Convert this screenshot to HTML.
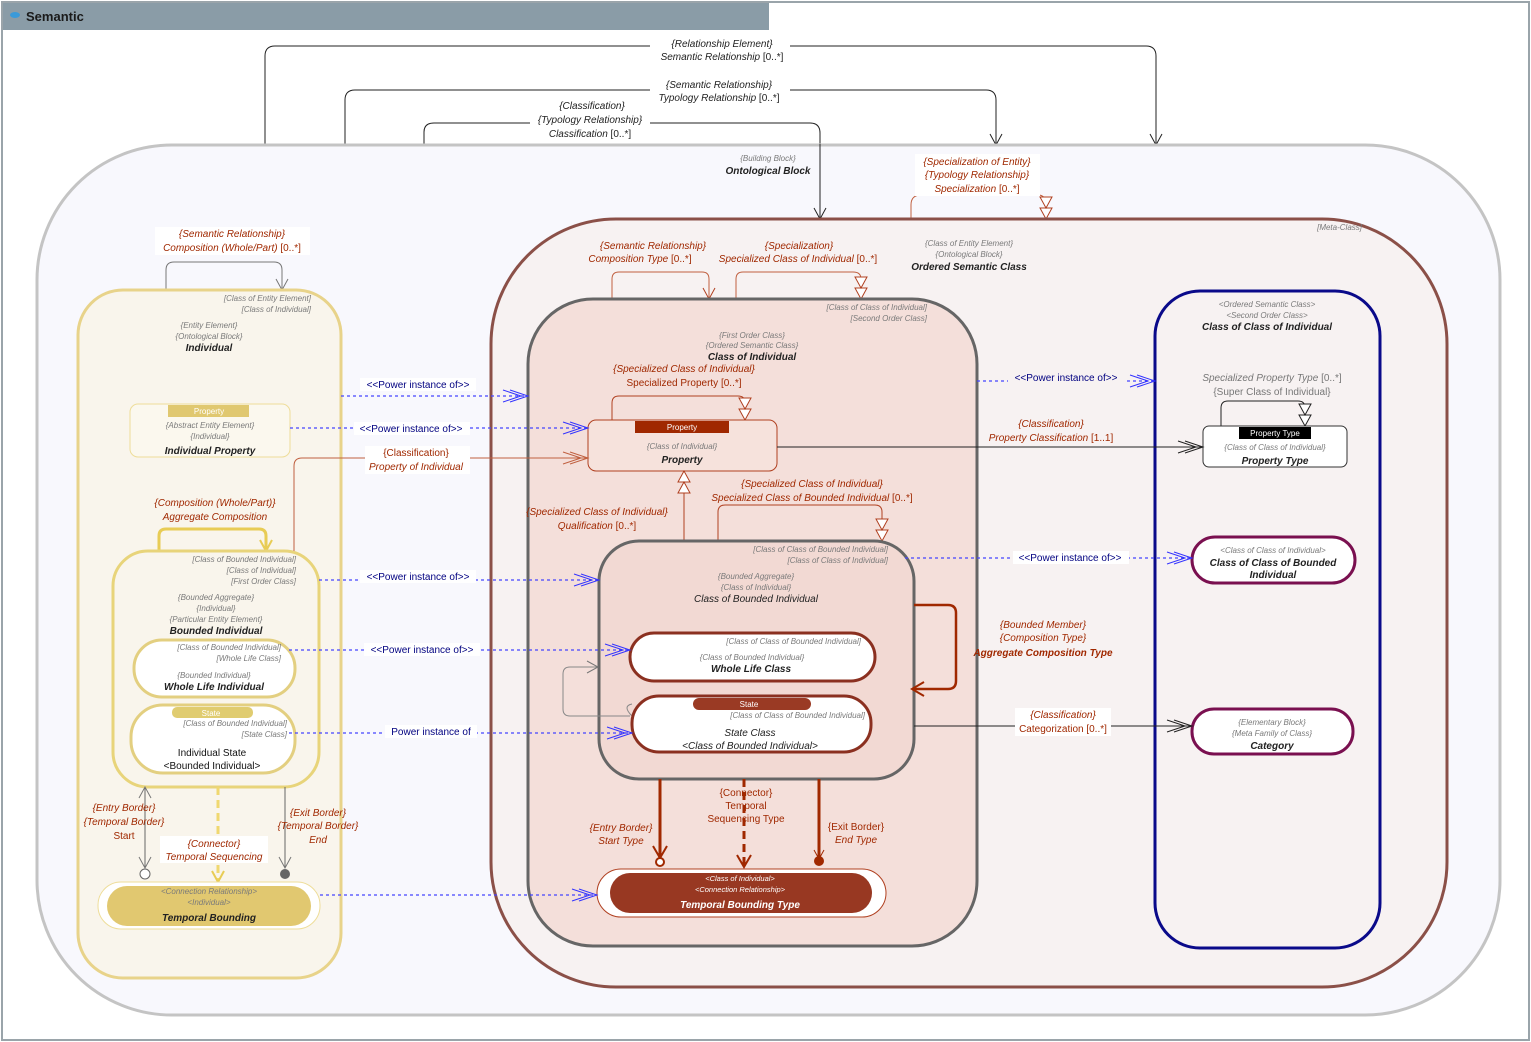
<!DOCTYPE html>
<html><head><meta charset="utf-8"><style>
html,body{margin:0;padding:0;background:#fff;}
svg{display:block;font-family:"Liberation Sans",sans-serif;}
marker{overflow:visible;}
.g{font-size:8px;fill:#7a7a7a;font-style:italic;}
.t{font-size:10px;fill:#222;font-style:italic;font-weight:bold;}
.r{font-size:10px;fill:#a02800;font-style:italic;}
.rn{font-size:10px;fill:#a02800;}
.k{font-size:10px;fill:#222;font-style:italic;}
.b{font-size:10px;fill:#000080;}
</style></head><body>
<svg width="1531" height="1042" viewBox="0 0 1531 1042" xmlns="http://www.w3.org/2000/svg">
<defs>
<marker id="ob" overflow="visible" markerWidth="20" markerHeight="12" refX="18" refY="6" orient="auto" markerUnits="userSpaceOnUse"><path d="M0,0 L18,6 L0,12 M-7,0 L11,6 L-7,12" fill="none" stroke="#3333ff" stroke-width="1"/></marker>
<marker id="okk" overflow="visible" markerWidth="20" markerHeight="12" refX="18" refY="6" orient="auto" markerUnits="userSpaceOnUse"><path d="M0,0 L18,6 L0,12 M-7,0 L11,6 L-7,12" fill="none" stroke="#222" stroke-width="1"/></marker>
<marker id="orr" overflow="visible" markerWidth="20" markerHeight="12" refX="18" refY="6" orient="auto" markerUnits="userSpaceOnUse"><path d="M0,0 L18,6 L0,12 M-7,0 L11,6 L-7,12" fill="none" stroke="#c06040" stroke-width="1"/></marker>
<marker id="ok" overflow="visible" markerWidth="12" markerHeight="12" refX="11" refY="6" orient="auto" markerUnits="userSpaceOnUse"><path d="M0,0 L11,6 L0,12" fill="none" stroke="#222" stroke-width="1"/></marker>
<marker id="og" overflow="visible" markerWidth="12" markerHeight="12" refX="11" refY="6" orient="auto" markerUnits="userSpaceOnUse"><path d="M0,0 L11,6 L0,12" fill="none" stroke="#777" stroke-width="1"/></marker>
<marker id="or" overflow="visible" markerWidth="12" markerHeight="12" refX="11" refY="6" orient="auto" markerUnits="userSpaceOnUse"><path d="M0,0 L11,6 L0,12" fill="none" stroke="#b04020" stroke-width="1"/></marker>
<marker id="oy" overflow="visible" markerWidth="12" markerHeight="12" refX="11" refY="6" orient="auto" markerUnits="userSpaceOnUse"><path d="M0,0 L11,6 L0,12" fill="none" stroke="#e8cc55" stroke-width="2"/></marker>
<marker id="orb" overflow="visible" markerWidth="14" markerHeight="14" refX="12" refY="7" orient="auto" markerUnits="userSpaceOnUse"><path d="M0,0 L12,7 L0,14" fill="none" stroke="#a02800" stroke-width="2"/></marker>
<marker id="tr" overflow="visible" markerWidth="12" markerHeight="22" refX="11" refY="11" orient="auto" markerUnits="userSpaceOnUse"><path d="M11,11 L0,5 L0,17 Z M0,11 L-11,5 L-11,17 Z" fill="#fff" stroke="#b04020" stroke-width="1"/></marker>
<marker id="tk" overflow="visible" markerWidth="12" markerHeight="22" refX="11" refY="11" orient="auto" markerUnits="userSpaceOnUse"><path d="M11,11 L0,5 L0,17 Z M0,11 L-11,5 L-11,17 Z" fill="#fff" stroke="#222" stroke-width="1"/></marker>
</defs>

<rect x="0" y="0" width="1531" height="1042" fill="#fff"/>
<rect x="2" y="2" width="1527" height="1038" fill="none" stroke="#9aa4aa" stroke-width="2"/>
<rect x="3" y="3" width="766" height="27" fill="#8a9ca7"/>
<ellipse cx="15" cy="15" rx="5" ry="3" fill="#3a9ad9"/>
<text x="26" y="21" font-size="13" font-weight="bold" fill="#1a1a1a">Semantic</text>

<!-- top connectors -->
<path d="M265,145 V56 Q265,46 275,46 H1146 Q1156,46 1156,56 V145" fill="none" stroke="#222" marker-end="url(#ok)"/>
<path d="M345,145 V100 Q345,90 355,90 H986 Q996,90 996,100 V145" fill="none" stroke="#222" marker-end="url(#ok)"/>
<path d="M424,145 V132 Q424,123 434,123 H810 Q820,123 820,133 V145" fill="none" stroke="#222"/>
<rect x="650" y="37" width="140" height="28" fill="#fff"/>
<text x="722" y="47" class="k" text-anchor="middle" font-size="10">{Relationship Element}</text>
<text x="722" y="60" class="k" text-anchor="middle">Semantic Relationship<tspan font-style="normal"> [0..*]</tspan></text>
<rect x="650" y="78" width="140" height="28" fill="#fff"/>
<text x="719" y="88" class="k" text-anchor="middle">{Semantic Relationship}</text>
<text x="719" y="101" class="k" text-anchor="middle">Typology Relationship<tspan font-style="normal"> [0..*]</tspan></text>
<rect x="530" y="100" width="120" height="40" fill="#fff"/>
<text x="592" y="109" class="k" text-anchor="middle">{Classification}</text>
<text x="590" y="123" class="k" text-anchor="middle">{Typology Relationship}</text>
<text x="590" y="137" class="k" text-anchor="middle">Classification<tspan font-style="normal"> [0..*]</tspan></text>

<!-- Ontological block -->
<rect x="37" y="145" width="1463" height="870" rx="135" fill="#f8f8fd" stroke="#c4c4c4" stroke-width="3"/>
<path d="M820,144 V219" fill="none" stroke="#222" marker-end="url(#ok)"/>
<text x="768" y="161" class="g" text-anchor="middle">{Building Block}</text>
<text x="768" y="174" class="t" text-anchor="middle">Ontological Block</text>

<!-- Ordered Semantic Class -->
<path d="M911,219 V205 Q911,195 921,195" fill="none" stroke="#c06040"/>
<path d="M1038,195 Q1046,195 1046,205 V219" fill="none" stroke="#c06040" marker-end="url(#tr)"/>
<rect x="915" y="154" width="125" height="42" fill="#fff"/>
<text x="977" y="165" class="r" text-anchor="middle">{Specialization of Entity}</text>
<text x="977" y="178" class="r" text-anchor="middle">{Typology Relationship}</text>
<text x="977" y="192" class="r" text-anchor="middle">Specialization<tspan font-style="normal"> [0..*]</tspan></text>
<rect x="491" y="219" width="956" height="768" rx="125" fill="#f7f2f2" stroke="#8b5048" stroke-width="3"/>
<text x="1362" y="230" class="g" text-anchor="end">[Meta-Class]</text>
<text x="969" y="246" class="g" text-anchor="middle">{Class of Entity Element}</text>
<text x="969" y="257" class="g" text-anchor="middle">{Ontological Block}</text>
<text x="969" y="270" class="t" text-anchor="middle">Ordered Semantic Class</text>

<!-- Individual (yellow) -->
<path d="M166,290 V270 Q166,262 174,262 H274 Q282,262 282,270 V290" fill="none" stroke="#777" marker-end="url(#og)"/>
<rect x="155" y="227" width="155" height="28" fill="#fff"/>
<text x="232" y="237" class="r" text-anchor="middle">{Semantic Relationship}</text>
<text x="232" y="251" class="r" text-anchor="middle">Composition (Whole/Part)<tspan font-style="normal"> [0..*]</tspan></text>
<rect x="78" y="290" width="263" height="688" rx="45" fill="#f9f5ec" stroke="#e8d38a" stroke-width="3"/>
<text x="311" y="301" class="g" text-anchor="end">[Class of Entity Element]</text>
<text x="311" y="312" class="g" text-anchor="end">[Class of Individual]</text>
<text x="209" y="328" class="g" text-anchor="middle">{Entity Element}</text>
<text x="209" y="339" class="g" text-anchor="middle">{Ontological Block}</text>
<text x="209" y="351" class="t" text-anchor="middle">Individual</text>

<rect x="130" y="404" width="160" height="53" rx="8" fill="#fbf8ee" stroke="#eedd99"/>
<rect x="168" y="405" width="81" height="12" fill="#e0c870"/>
<text x="209" y="414" font-size="8" fill="#fff" text-anchor="middle">Property</text>
<text x="210" y="428" class="g" text-anchor="middle">{Abstract Entity Element}</text>
<text x="210" y="439" class="g" text-anchor="middle">{Individual}</text>
<text x="210" y="454" class="t" text-anchor="middle">Individual Property</text>

<path d="M159,551 V536 Q159,529 166,529 H259 Q266,529 266,536 V551" fill="none" stroke="#e8cc55" stroke-width="3" marker-end="url(#oy)"/>
<text x="215" y="506" class="r" text-anchor="middle">{Composition (Whole/Part)}</text>
<text x="215" y="520" class="r" text-anchor="middle">Aggregate Composition</text>

<rect x="113" y="551" width="206" height="236" rx="35" fill="#f9f5ec" stroke="#e8d47a" stroke-width="3"/>
<text x="296" y="562" class="g" text-anchor="end">[Class of Bounded Individual]</text>
<text x="296" y="573" class="g" text-anchor="end">[Class of Individual]</text>
<text x="296" y="584" class="g" text-anchor="end">[First Order Class]</text>
<text x="216" y="600" class="g" text-anchor="middle">{Bounded Aggregate}</text>
<text x="216" y="611" class="g" text-anchor="middle">{Individual}</text>
<text x="216" y="622" class="g" text-anchor="middle">{Particular Entity Element}</text>
<text x="216" y="634" class="t" text-anchor="middle">Bounded Individual</text>

<rect x="134" y="640" width="161" height="57" rx="28" fill="#fff" stroke="#e3cf80" stroke-width="3"/>
<text x="281" y="650" class="g" text-anchor="end">[Class of Bounded Individual]</text>
<text x="281" y="661" class="g" text-anchor="end">[Whole Life Class]</text>
<text x="214" y="678" class="g" text-anchor="middle">{Bounded Individual}</text>
<text x="214" y="690" class="t" text-anchor="middle">Whole Life Individual</text>

<rect x="131" y="705" width="164" height="68" rx="32" fill="#fff" stroke="#e3cf80" stroke-width="3"/>
<rect x="172" y="707" width="81" height="11" rx="5" fill="#e0cc70"/>
<text x="211" y="716" font-size="8" fill="#fff" text-anchor="middle">State</text>
<text x="287" y="726" class="g" text-anchor="end">[Class of Bounded Individual]</text>
<text x="287" y="737" class="g" text-anchor="end">[State Class]</text>
<text x="212" y="756" font-size="10" fill="#111" text-anchor="middle">Individual State</text>
<text x="212" y="769" font-size="10" fill="#111" text-anchor="middle">&lt;Bounded Individual&gt;</text>

<path d="M145,868 V787" fill="none" stroke="#666" marker-end="url(#og)"/>
<path d="M145,788 L145,868" fill="none" stroke="#666" marker-end="url(#og)"/>
<circle cx="145" cy="874" r="5" fill="#fff" stroke="#666"/>
<path d="M285,787 V868" fill="none" stroke="#666" marker-end="url(#og)"/>
<circle cx="285" cy="874" r="5" fill="#666"/>
<path d="M218,787 V882" fill="none" stroke="#f0d870" stroke-width="3" stroke-dasharray="8,5" marker-end="url(#oy)"/>
<text x="124" y="811" class="r" text-anchor="middle">{Entry Border}</text>
<text x="124" y="825" class="r" text-anchor="middle">{Temporal Border}</text>
<text x="124" y="839" class="rn" text-anchor="middle">Start</text>
<text x="318" y="816" class="r" text-anchor="middle">{Exit Border}</text>
<text x="318" y="829" class="r" text-anchor="middle">{Temporal Border}</text>
<text x="318" y="843" class="r" text-anchor="middle">End</text>
<rect x="160" y="836" width="108" height="27" fill="#fff"/>
<text x="214" y="847" class="r" text-anchor="middle">{Connector}</text>
<text x="214" y="860" class="r" text-anchor="middle">Temporal Sequencing</text>

<rect x="98" y="882" width="222" height="47" rx="23" fill="#fff" stroke="#eedd99"/>
<rect x="107" y="886" width="204" height="40" rx="20" fill="#e1c870"/>
<text x="209" y="894" class="g" text-anchor="middle" fill="#555">&lt;Connection Relationship&gt;</text>
<text x="209" y="905" class="g" text-anchor="middle" fill="#555">&lt;Individual&gt;</text>
<text x="209" y="921" class="t" text-anchor="middle">Temporal Bounding</text>

<!-- Class of Individual -->
<path d="M612,299 V279 Q612,272 619,272 H702 Q709,272 709,279 V299" fill="none" stroke="#c06040" marker-end="url(#or)"/>
<path d="M736,299 V279 Q736,272 743,272 H853 Q861,272 861,279 V299" fill="none" stroke="#c06040" marker-end="url(#tr)"/>
<text x="653" y="249" class="r" text-anchor="middle">{Semantic Relationship}</text>
<text x="640" y="262" class="r" text-anchor="middle">Composition Type<tspan font-style="normal"> [0..*]</tspan></text>
<text x="799" y="249" class="r" text-anchor="middle">{Specialization}</text>
<text x="798" y="262" class="r" text-anchor="middle">Specialized Class of Individual<tspan font-style="normal"> [0..*]</tspan></text>

<rect x="528" y="299" width="449" height="647" rx="65" fill="#f4dfda" stroke="#666" stroke-width="3"/>
<text x="927" y="310" class="g" text-anchor="end">[Class of Class of Individual]</text>
<text x="927" y="321" class="g" text-anchor="end">[Second Order Class]</text>
<text x="752" y="338" class="g" text-anchor="middle">{First Order Class}</text>
<text x="752" y="348" class="g" text-anchor="middle">{Ordered Semantic Class}</text>
<text x="752" y="360" class="t" text-anchor="middle">Class of Individual</text>
<text x="684" y="372" class="r" text-anchor="middle">{Specialized Class of Individual}</text>
<text x="684" y="386" class="rn" text-anchor="middle">Specialized Property [0..*]</text>

<path d="M612,420 V403 Q612,396 619,396 H738 Q745,396 745,403 V420" fill="none" stroke="#b04020" marker-end="url(#tr)"/>
<rect x="588" y="420" width="189" height="51" rx="8" fill="#f6e2dc" stroke="#b04020"/>
<rect x="635" y="421" width="94" height="12" fill="#a02800"/>
<text x="682" y="430" font-size="8" fill="#fff" text-anchor="middle">Property</text>
<text x="682" y="449" class="g" text-anchor="middle">{Class of Individual}</text>
<text x="682" y="463" class="t" text-anchor="middle">Property</text>

<path d="M684,541 V471" fill="none" stroke="#b04020" marker-end="url(#tr)"/>
<text x="597" y="515" class="r" text-anchor="middle">{Specialized Class of Individual}</text>
<text x="597" y="529" class="r" text-anchor="middle">Qualification<tspan font-style="normal"> [0..*]</tspan></text>
<path d="M718,541 V512 Q718,505 725,505 H875 Q882,505 882,512 V541" fill="none" stroke="#b04020" marker-end="url(#tr)"/>
<text x="812" y="487" class="r" text-anchor="middle">{Specialized Class of Individual}</text>
<text x="812" y="501" class="r" text-anchor="middle">Specialized Class of Bounded Individual<tspan font-style="normal"> [0..*]</tspan></text>

<rect x="599" y="541" width="315" height="238" rx="40" fill="#f2d9d3" stroke="#666" stroke-width="3"/>
<text x="888" y="552" class="g" text-anchor="end">[Class of Class of Bounded Individual]</text>
<text x="888" y="563" class="g" text-anchor="end">[Class of Class of Individual]</text>
<text x="756" y="579" class="g" text-anchor="middle">{Bounded Aggregate}</text>
<text x="756" y="590" class="g" text-anchor="middle">{Class of Individual}</text>
<text x="756" y="602" class="k" text-anchor="middle" font-size="10">Class of Bounded Individual</text>

<path d="M630,716 H570 Q563,716 563,709 V674 Q563,667 570,667 H598" fill="none" stroke="#888" marker-end="url(#og)"/>
<path d="M632,716 Q622,706 632,704" fill="none" stroke="#888"/>
<rect x="630" y="633" width="245" height="48" rx="24" fill="#fff" stroke="#8b3020" stroke-width="3"/>
<text x="861" y="644" class="g" text-anchor="end">[Class of Class of Bounded Individual]</text>
<text x="752" y="660" class="g" text-anchor="middle">{Class of Bounded Individual}</text>
<text x="751" y="672" class="t" text-anchor="middle">Whole Life Class</text>
<rect x="632" y="696" width="239" height="56" rx="27" fill="#fff" stroke="#8b3020" stroke-width="3"/>
<rect x="693" y="698" width="118" height="12" rx="6" fill="#9a3a24"/>
<text x="749" y="707" font-size="8" fill="#fff" text-anchor="middle">State</text>
<text x="865" y="718" class="g" text-anchor="end">[Class of Class of Bounded Individual]</text>
<text x="750" y="736" class="k" text-anchor="middle">State Class</text>
<text x="750" y="749" class="k" text-anchor="middle">&lt;Class of Bounded Individual&gt;</text>

<path d="M914,605 H948 Q956,605 956,613 V681 Q956,689 948,689 H912" fill="none" stroke="#a02800" stroke-width="2.5" marker-end="url(#orb)"/>
<text x="1043" y="628" class="r" text-anchor="middle">{Bounded Member}</text>
<text x="1043" y="641" class="r" text-anchor="middle">{Composition Type}</text>
<text x="1043" y="656" class="r" text-anchor="middle" font-weight="bold">Aggregate Composition Type</text>

<path d="M660,779 V858" fill="none" stroke="#a02800" stroke-width="3" marker-end="url(#orb)"/>
<circle cx="660" cy="862" r="4" fill="#fff" stroke="#a02800" stroke-width="2"/>
<path d="M819,779 V858" fill="none" stroke="#a02800" stroke-width="3"/>
<path d="M814,850 L819,859 L824,850" fill="none" stroke="#a02800"/>
<circle cx="819" cy="861" r="5" fill="#a02800"/>
<path d="M744,779 V867" fill="none" stroke="#a02800" stroke-width="3" stroke-dasharray="8,5" marker-end="url(#orb)"/>
<text x="621" y="831" class="r" text-anchor="middle">{Entry Border}</text>
<text x="621" y="844" class="r" text-anchor="middle">Start Type</text>
<text x="856" y="830" class="rn" text-anchor="middle">{Exit Border}</text>
<text x="856" y="843" class="r" text-anchor="middle">End Type</text>
<text x="746" y="796" class="rn" text-anchor="middle">{Connector}</text>
<text x="746" y="809" class="rn" text-anchor="middle">Temporal</text>
<text x="746" y="822" class="rn" text-anchor="middle">Sequencing Type</text>

<rect x="597" y="869" width="289" height="48" rx="24" fill="#fff" stroke="#b04020"/>
<rect x="610" y="873" width="262" height="40" rx="20" fill="#983822"/>
<text x="740" y="881" font-size="7.5" font-style="italic" fill="#fff" text-anchor="middle">&lt;Class of Individual&gt;</text>
<text x="740" y="892" font-size="7.5" font-style="italic" fill="#fff" text-anchor="middle">&lt;Connection Relationship&gt;</text>
<text x="740" y="908" font-size="10" font-weight="bold" font-style="italic" fill="#fff" text-anchor="middle">Temporal Bounding Type</text>

<!-- Class of Class of Individual -->
<rect x="1155" y="291" width="225" height="657" rx="45" fill="#f7f2f2" stroke="#0a0a8a" stroke-width="3"/>
<text x="1267" y="307" class="g" text-anchor="middle">&lt;Ordered Semantic Class&gt;</text>
<text x="1267" y="318" class="g" text-anchor="middle">&lt;Second Order Class&gt;</text>
<text x="1267" y="330" class="t" text-anchor="middle">Class of Class of Individual</text>
<text x="1272" y="381" font-size="10" fill="#777" text-anchor="middle"><tspan font-style="italic">Specialized Property Type</tspan> [0..*]</text>
<text x="1272" y="395" font-size="10" fill="#777" text-anchor="middle">{Super Class of Individual}</text>
<path d="M1221,426 V408 Q1221,401 1228,401 H1298 Q1305,401 1305,408 V426" fill="none" stroke="#222" marker-end="url(#tk)"/>
<rect x="1203" y="426" width="144" height="41" rx="6" fill="#fff" stroke="#333"/>
<rect x="1239" y="427" width="72" height="12" fill="#000"/>
<text x="1275" y="436" font-size="8" fill="#fff" text-anchor="middle">Property Type</text>
<text x="1275" y="450" class="g" text-anchor="middle">{Class of Class of Individual}</text>
<text x="1275" y="464" class="t" text-anchor="middle">Property Type</text>

<rect x="1192" y="537" width="163" height="46" rx="23" fill="#fff" stroke="#7a1050" stroke-width="3"/>
<text x="1273" y="553" class="g" text-anchor="middle">&lt;Class of Class of Individual&gt;</text>
<text x="1273" y="566" class="t" text-anchor="middle">Class of Class of Bounded</text>
<text x="1273" y="578" class="t" text-anchor="middle">Individual</text>
<rect x="1192" y="709" width="161" height="45" rx="22" fill="#fff" stroke="#7a1050" stroke-width="3"/>
<text x="1272" y="725" class="g" text-anchor="middle">{Elementary Block}</text>
<text x="1272" y="736" class="g" text-anchor="middle">{Meta Family of Class}</text>
<text x="1272" y="749" class="t" text-anchor="middle">Category</text>

<path d="M777,447 H1203" fill="none" stroke="#222" marker-end="url(#okk)"/>
<rect x="985" y="417" width="130" height="28" fill="#f7f2f2"/>
<text x="1051" y="427" class="r" text-anchor="middle">{Classification}</text>
<text x="1051" y="441" class="r" text-anchor="middle">Property Classification<tspan font-style="normal"> [1..1]</tspan></text>
<path d="M914,726 H1192" fill="none" stroke="#222" marker-end="url(#okk)"/>
<rect x="1015" y="708" width="96" height="28" fill="#fff"/>
<text x="1063" y="718" class="r" text-anchor="middle">{Classification}</text>
<text x="1063" y="732" class="rn" text-anchor="middle">Categorization [0..*]</text>

<path d="M294,551 V466 Q294,458 302,458 H588" fill="none" stroke="#c06040" marker-end="url(#orr)"/>
<rect x="365" y="446" width="105" height="28" fill="#fff"/>
<text x="416" y="456" class="rn" text-anchor="middle">{Classification}</text>
<text x="416" y="470" class="r" text-anchor="middle">Property of Individual</text>

<g stroke="#4444ff" stroke-width="1.3" stroke-dasharray="3,3" fill="none">
<path d="M341,396 H528" marker-end="url(#ob)"/>
<path d="M290,428 H588" marker-end="url(#ob)"/>
<path d="M319,580 H599" marker-end="url(#ob)"/>
<path d="M289,650 H630" marker-end="url(#ob)"/>
<path d="M289,733 H632" marker-end="url(#ob)"/>
<path d="M320,895 H597" marker-end="url(#ob)"/>
<path d="M977,381 H1155" marker-end="url(#ob)"/>
<path d="M905,558 H1192" marker-end="url(#ob)"/>
</g>
<g class="b" text-anchor="middle">
<rect x="360" y="378" width="116" height="13" fill="#fff"/><text x="418" y="388">&lt;&lt;Power instance of&gt;&gt;</text>
<rect x="354" y="422" width="116" height="13" fill="#fff"/><text x="411" y="432">&lt;&lt;Power instance of&gt;&gt;</text>
<rect x="360" y="570" width="116" height="13" fill="#fff"/><text x="418" y="580">&lt;&lt;Power instance of&gt;&gt;</text>
<rect x="364" y="643" width="116" height="13" fill="#fff"/><text x="422" y="653">&lt;&lt;Power instance of&gt;&gt;</text>
<rect x="385" y="725" width="92" height="13" fill="#fff"/><text x="431" y="735">Power instance of</text>
<rect x="1008" y="371" width="116" height="13" fill="#f7f2f2"/><text x="1066" y="381">&lt;&lt;Power instance of&gt;&gt;</text>
<rect x="1013" y="551" width="116" height="13" fill="#fff"/><text x="1070" y="561">&lt;&lt;Power instance of&gt;&gt;</text>
</g>
</svg>
</body></html>
